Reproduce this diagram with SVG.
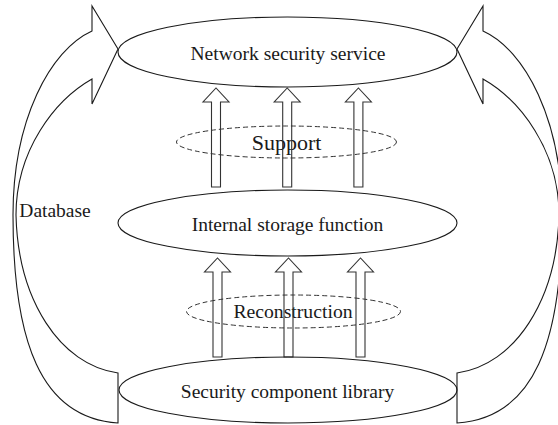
<svg xmlns="http://www.w3.org/2000/svg" xmlns:xlink="http://www.w3.org/1999/xlink" width="558" height="425" viewBox="0 0 558 425">
<style>
.ln{fill:none;stroke:#1a1a1a;stroke-width:1.1}
.ds{fill:none;stroke:#333;stroke-width:1;stroke-dasharray:5,3}
.ar{fill:none;stroke:#333;stroke-width:1.1}
text{font-family:"Liberation Serif","Times New Roman",serif;fill:#1a1a1a;text-anchor:middle}
</style>
<defs>
<path id="bigArrow" d="M118,423 C40,418 13,340 13,215 C13,120 50,50 92,31 L92,6 L118,49 L92,104 L92,79 C55,100 16,150 16,215 C18,300 60,365 118,373 Z"/>
<path id="upArrow" d="M-4.5,0 L-4.5,-85 L-13,-85 L0,-99 L13,-85 L4.5,-85 L4.5,0 Z"/>
</defs>
<rect width="558" height="425" fill="#fff"/>
<g id="connectors">
<use xlink:href="#bigArrow" class="ln"/>
<use xlink:href="#bigArrow" class="ln" transform="matrix(-1,0,0,1,575,0)"/>
</g>
<g id="support">
<ellipse class="ds" cx="286.5" cy="142" rx="110" ry="16"/>
<text x="286.5" y="150" font-size="22">Support</text>
</g>
<g id="reconstruction">
<ellipse class="ds" cx="293.5" cy="311.5" rx="107" ry="16.5"/>
<text x="293" y="318.3" font-size="19.7">Reconstruction</text>
</g>
<g id="arrows-upper">
<use xlink:href="#upArrow" class="ar" transform="translate(216,187)"/>
<use xlink:href="#upArrow" class="ar" transform="translate(287.2,187)"/>
<use xlink:href="#upArrow" class="ar" transform="translate(358.4,187)"/>
</g>
<g id="arrows-lower">
<use xlink:href="#upArrow" class="ar" transform="translate(217.5,357) scale(1,1)"/>
<use xlink:href="#upArrow" class="ar" transform="translate(288.5,357)"/>
<use xlink:href="#upArrow" class="ar" transform="translate(360.5,357)"/>
</g>
<g id="network-security-service">
<ellipse class="ln" cx="287.5" cy="52" rx="169.5" ry="35"/>
<text x="288" y="60" font-size="19.5">Network security service</text>
</g>
<g id="internal-storage-function">
<ellipse class="ln" cx="287.5" cy="223" rx="169.5" ry="33"/>
<text x="287.5" y="230.7" font-size="19.5">Internal storage function</text>
</g>
<g id="security-component-library">
<ellipse class="ln" cx="288" cy="390" rx="169" ry="33"/>
<text x="287.5" y="398" font-size="19.5">Security component library</text>
</g>
<g id="database">
<text x="19.3" y="216.7" font-size="19.5" style="text-anchor:start">Database</text>
</g>
</svg>
